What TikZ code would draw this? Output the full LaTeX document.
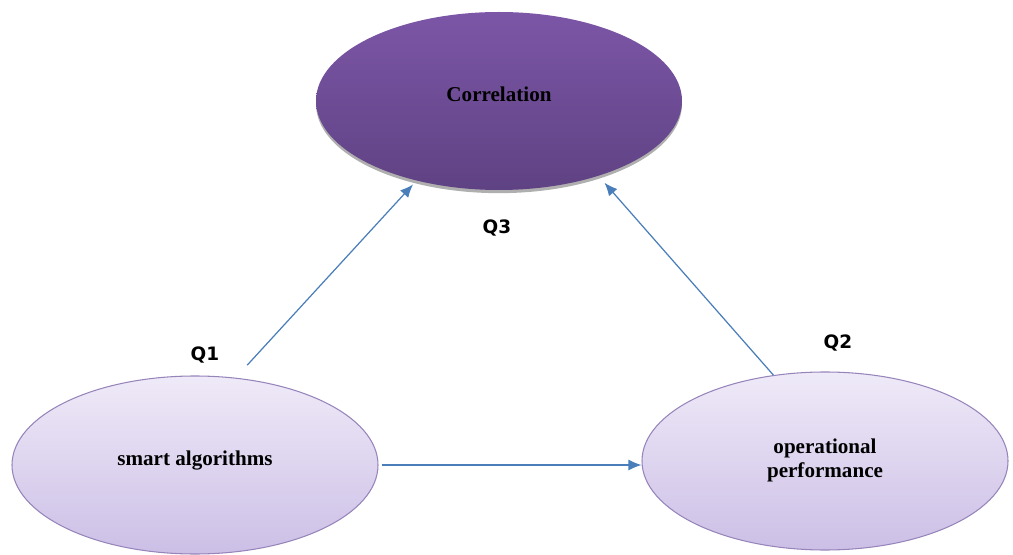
\documentclass[tikz,border=0pt]{standalone}
\usepackage{fontspec}
\setmainfont{Liberation Serif}
\newfontfamily\qfont{DejaVu Sans}
\usetikzlibrary{shapes.geometric,arrows.meta,shadows}

\definecolor{corTop}{RGB}{124,86,167}
\definecolor{corBot}{RGB}{95,66,131}
\definecolor{lavTop}{RGB}{239,234,248}
\definecolor{lavBot}{RGB}{204,191,230}
\definecolor{lavLine}{RGB}{150,132,186}
\definecolor{linkBlue}{RGB}{74,126,187}

\newcommand{\elltext}[1]{\raisebox{3.2mm}{\begin{tabular}{@{}c@{}}#1\end{tabular}}}

\begin{document}
\begin{tikzpicture}[
    bubble/.style={ellipse, inner sep=0pt, minimum width=7.32cm, minimum height=3.56cm,
      font=\fontsize{12}{13.5}\selectfont\bfseries},
    topbubble/.style={bubble, top color=corTop, bottom color=corBot,
      drop shadow={shadow xshift=0pt, shadow yshift=-1.8pt, fill=black!35, opacity=0.9}},
    lowbubble/.style={bubble, draw=lavLine, line width=0.6pt, top color=lavTop, bottom color=lavBot},
    qlabel/.style={font=\qfont\fontsize{10.5}{12}\selectfont\bfseries},
    link/.style={draw=linkBlue, line width=0.7pt, -{Latex[length=2.6mm,width=2.2mm]}}
  ]
  \useasboundingbox (0,0) rectangle (20.26,11.08);

  \node[topbubble] (cor) at (9.98,9.06) {\elltext{Correlation}};
  \node[lowbubble] (algo) at (3.90,1.78) {\elltext{smart algorithms}};
  \node[lowbubble] (oper) at (16.50,1.86) {\elltext{operational\\performance}};

\node[qlabel] (q1) at (4.10,3.98) {Q1};
\node[qlabel] (q2) at (16.76,4.22) {Q2};
\node[qlabel] (q3) at (9.94,6.52) {Q3};

  \draw[link, shorten <=0.34cm, shorten >=0.1cm] (algo.65) -- (cor.224.5);
  \draw[link, shorten >=0.18cm] (oper.121.4) -- (cor.323.5);
  \draw[link, shorten <=0.06cm] (algo.east) -- (algo.east -| oper.west);
\end{tikzpicture}
\end{document}
